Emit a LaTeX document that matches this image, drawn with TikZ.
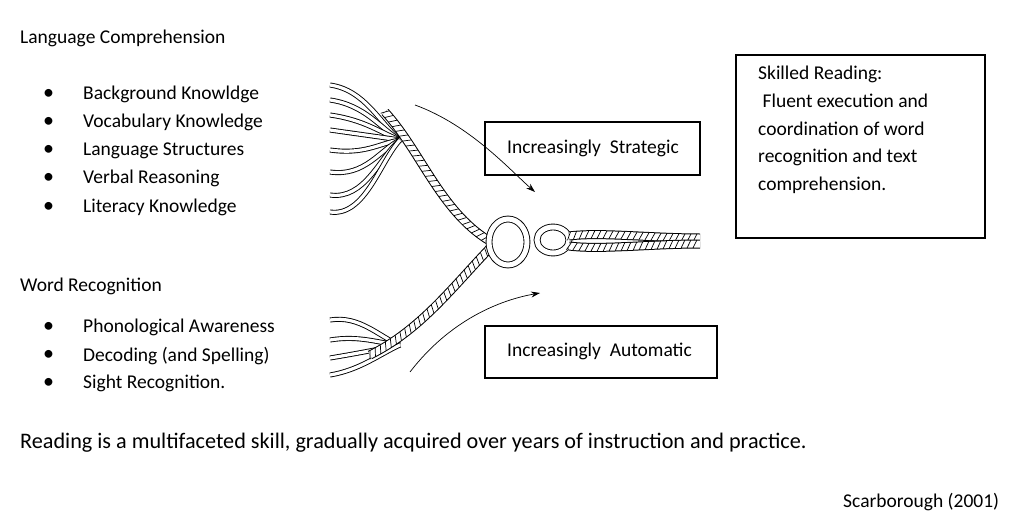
\documentclass[tikz,border=0pt]{standalone}
\usepackage{fontspec}
\setmainfont{Carlito}
\usetikzlibrary{arrows.meta,decorations.markings}
\begin{document}
\begin{tikzpicture}[x=1pt,y=-1pt,
  txt/.style={anchor=west,inner sep=0pt,font=\fontsize{19.5}{24}\selectfont},
  bx/.style={draw,line width=1.3pt,inner sep=0pt},
  strand/.style={double=white,double distance=3.2pt,line width=0.9pt},
  cord/.style={double=white,double distance=7pt,line width=1pt,
    postaction={decorate,decoration={markings,mark=between positions 0 and 1 step 6pt with {\draw[line width=0.7pt] (-2pt,-4pt) -- (2pt,4pt);}}}},
  arr/.style={-{Stealth[length=9pt,width=6pt]},line width=0.7pt}]
\useasboundingbox (0,0) rectangle (1025,527);
\node[txt] (lc) at (20,38) {Language Comprehension};
\foreach \t [count=\i] in {Background Knowldge,Vocabulary Knowledge,Language Structures,Verbal Reasoning,Literacy Knowledge}{
  \node[txt] (b\i) at (43,66+28.2*\i) {\fontsize{22}{24}\selectfont •};
  \node[txt] (l\i) at (83,66+28.2*\i) {\t};}
\node[txt] (wr) at (20,286) {Word Recognition};
\foreach \t [count=\i] in {Phonological Awareness,Decoding (and Spelling),Sight Recognition.}{
  \node[txt] (c\i) at (43,299+28.3*\i) {\fontsize{22}{24}\selectfont •};
  \node[txt] (w\i) at (83,299+28.3*\i) {\t};}
\node[txt,font=\fontsize{22.2}{26}\selectfont] (main) at (20,443) {Reading is a multifaceted skill, gradually acquired over years of instruction and practice.};
\node[txt] (ref) at (843,502) {Scarborough (2001)};
% boxes
\draw[bx] (485,122) rectangle (700,175);
\node[txt] (s) at (507,148) {Increasingly\ \ Strategic};
\draw[bx] (485,326) rectangle (717,378);
\node[txt] (a) at (507,351) {Increasingly\ \ Automatic};
\draw[bx] (736,55) rectangle (985,238);
\node[txt,align=left,anchor=north west,font=\fontsize{19.5}{27.7}\selectfont] (sk) at (758,66)
 {Skilled Reading:\\\ Fluent execution and\\coordination of word\\recognition and text\\comprehension.};
% arrows
\coordinate (a1s) at (415,105); \coordinate (a1e) at (535,192);
\draw[arr] (a1s) .. controls (470,125) and (510,170) .. (a1e);
\coordinate (a2s) at (410,372); \coordinate (a2e) at (540,293);
\draw[arr] (a2s) .. controls (450,320) and (500,300) .. (a2e);
% top strands
\foreach \y in {85,100,115,130,150,172,195,212}{
  \draw[strand] (330,\y) .. controls (365,\y+5) and (380,{\y+(140-\y)*0.7}) .. (400,140);}
\draw[cord] (385,112) .. controls (420,150) and (440,210) .. (488,240);
% bottom strands
\foreach \y in {320,340,358,375}{
  \draw[strand] (330,\y) .. controls (360,\y-5) and (380,{\y+(345-\y)*0.7}) .. (400,345);}
\draw[cord] (370,355) .. controls (420,330) and (450,290) .. (490,248);
% loops and braid
\draw[strand,double distance=5pt] (508,242) ellipse (19 and 23);
\draw[strand,double distance=5pt] (553,240) ellipse (16 and 13);
\draw[cord] (569,236) .. controls (600,232) and (650,238) .. (700,238);
\draw[cord] (569,246) .. controls (600,250) and (650,244) .. (700,244);
\end{tikzpicture}
\end{document}
